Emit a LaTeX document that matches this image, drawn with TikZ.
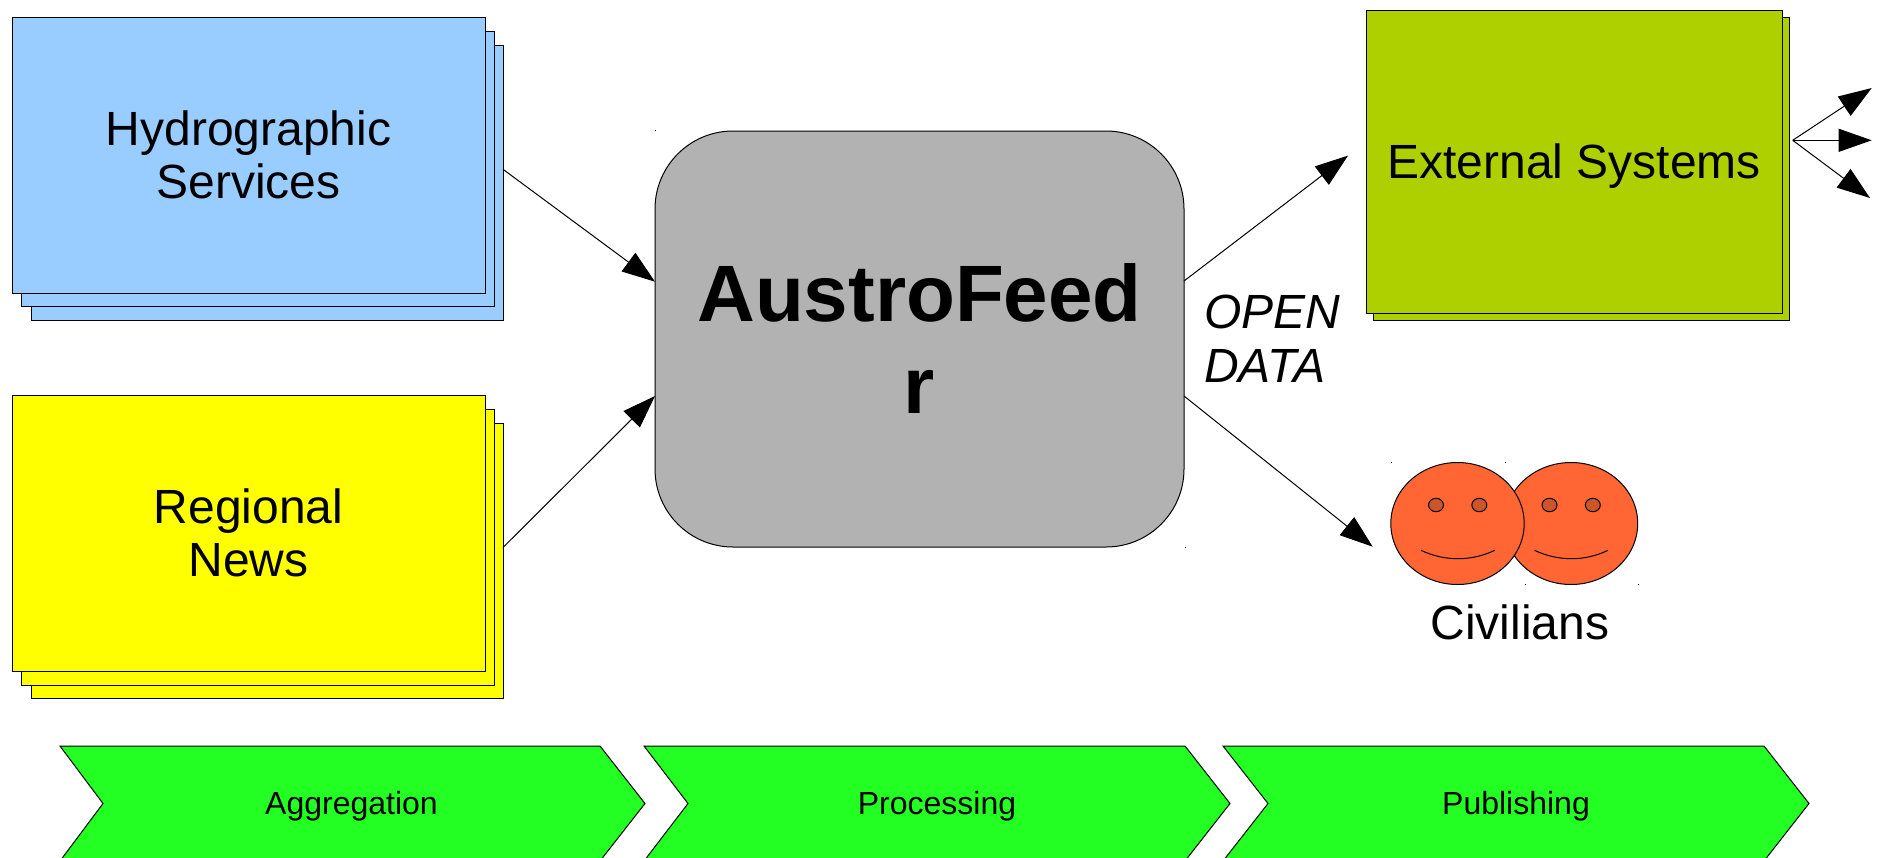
\documentclass[tikz,border=0pt]{standalone}
\usepackage{fontspec}
\setmainfont{Liberation Sans}
\usetikzlibrary{arrows.meta,shapes.geometric,calc}
\definecolor{bluefill}{HTML}{99CCFF}
\definecolor{yelfill}{RGB}{255,255,0}
\definecolor{olivefill}{HTML}{AED000}
\definecolor{greyfill}{HTML}{B2B2B2}
\definecolor{chevfill}{HTML}{23FF23}
\definecolor{facefill}{HTML}{FF6633}
\definecolor{eyefill}{HTML}{CC5529}
\tikzset{
  x=1pt,y=-1pt,
  outl/.style={draw=black,line width=1pt},
  sheet/.style={outl,rectangle,inner sep=0pt,outer sep=0pt,anchor=north west,align=center,font=\fontsize{48}{53}\selectfont},
  conn/.style={draw=black,line width=1pt,-{Triangle[length=33pt,width=23pt]}},
  chev/.style={outl,fill=chevfill,line join=miter},
  chevtext/.style={font=\fontsize{32}{38}\selectfont,inner sep=0pt},
  face/.style={outl,ellipse,fill=facefill,minimum width=133.4pt,minimum height=122pt,inner sep=0pt,outer sep=0pt},
  eye/.style={outl,ellipse,fill=eyefill,minimum width=15pt,minimum height=13.4pt,inner sep=0pt},
  speck/.style={fill=black,inner sep=0pt,minimum size=1pt,rectangle},
}
\begin{document}
\begin{tikzpicture}
\useasboundingbox (0,0) rectangle (1877,857);
\clip (0,0) rectangle (1877,857);
% blue stack
\node[sheet,fill=bluefill,minimum width=472pt,minimum height=275pt] (blue3) at (31,45) {};
\node[sheet,fill=bluefill,minimum width=473pt,minimum height=275pt] (blue2) at (21,31) {};
\node[sheet,fill=bluefill,minimum width=473pt,minimum height=276pt] (blue1) at (12,17) {Hydrographic\\Services};
% yellow stack
\node[sheet,fill=yelfill,minimum width=472pt,minimum height=275pt] (yel3) at (31,423.5) {};
\node[sheet,fill=yelfill,minimum width=473pt,minimum height=276pt] (yel2) at (21,409.5) {};
\node[sheet,fill=yelfill,minimum width=473pt,minimum height=275.5pt] (yel1) at (12,395.5) {Regional\\News};
% core
\node[sheet,fill=greyfill,rounded corners=78pt,minimum width=529pt,minimum height=416pt,font=\fontsize{80}{92}\bfseries\selectfont] (core) at (655,131) {AustroFeed\\r};
% external systems
\node[sheet,fill=olivefill,minimum width=416pt,minimum height=303pt] (ext2) at (1373,17) {};
\node[sheet,fill=olivefill,minimum width=416pt,minimum height=302.5pt] (ext1) at (1366,10.5) {\raisebox{-17pt}[0pt][0pt]{External Systems}};
% faces
\node[face] (faceB) at (1571,523.5) {};
\node[eye] (eyeB1) at (1549.5,505) {};
\node[eye] (eyeB2) at (1592.8,505) {};
\draw[line width=1pt] (1534.5,550.3) .. controls (1558,561.5) and (1585,561.5) .. (1608,550.3);
\node[face] (faceA) at (1457.5,523.5) {};
\node[eye] (eyeA1) at (1436,505) {};
\node[eye] (eyeA2) at (1479.3,505) {};
\draw[line width=1pt] (1421,550.3) .. controls (1444.5,561.5) and (1471.5,561.5) .. (1494.7,550.3);
\node[font=\fontsize{48}{53}\selectfont,inner sep=0pt] (civ) at (1520,622) {Civilians};
% small handle specks
\node[speck] (s1) at (1391.7,462.3) {};
\node[speck] (s2) at (1505,462.3) {};
\node[speck] (s3) at (1525,584.7) {};
\node[speck] (s4) at (1638.3,584.7) {};
\node[speck] (s5) at (655,130.5) {};
\node[speck] (s6) at (1185,547.5) {};
% open data
\node[font=\fontsize{48}{54}\itshape\selectfont,align=left,anchor=west,inner sep=0pt] (open) at (1204,338.5) {OPEN\\DATA};
% free ends
\coordinate (extIn) at (1348,155.6);
\coordinate (civIn) at (1372.7,546.7);
\coordinate (fanO) at (1792.7,140.3);
\coordinate (fanA) at (1871.7,88);
\coordinate (fanB) at (1871.7,140.3);
\coordinate (fanC) at (1870,198);
% connectors
\draw[conn] ([yshift=13.2pt]blue3.east) -- ([yshift=57.3pt]core.west);
\draw[conn] ([yshift=13.5pt]yel3.east) -- ([yshift=-57pt]core.west);
\draw[conn] ([yshift=58pt]core.east) -- (extIn);
\draw[conn] ([yshift=-57pt]core.east) -- (civIn);
\draw[conn] (fanO) -- (fanA);
\draw[conn] (fanO) -- (fanB);
\draw[conn] (fanO) -- (fanC);
% chevrons
\path[chev] (60,746) -- (600,746) -- (645,803.5) -- (600,861) -- (60,861) -- (103,803.5) -- cycle;
\node[chevtext] (agg) at (351.5,806) {Aggregation};
\path[chev] (644,746) -- (1185,746) -- (1230,803.5) -- (1185,861) -- (644,861) -- (688,803.5) -- cycle;
\node[chevtext] (proc) at (937,806) {Processing};
\path[chev] (1223,746) -- (1764,746) -- (1809,803.5) -- (1764,861) -- (1223,861) -- (1268,803.5) -- cycle;
\node[chevtext] (pub) at (1516,806) {Publishing};
\end{tikzpicture}
\end{document}
